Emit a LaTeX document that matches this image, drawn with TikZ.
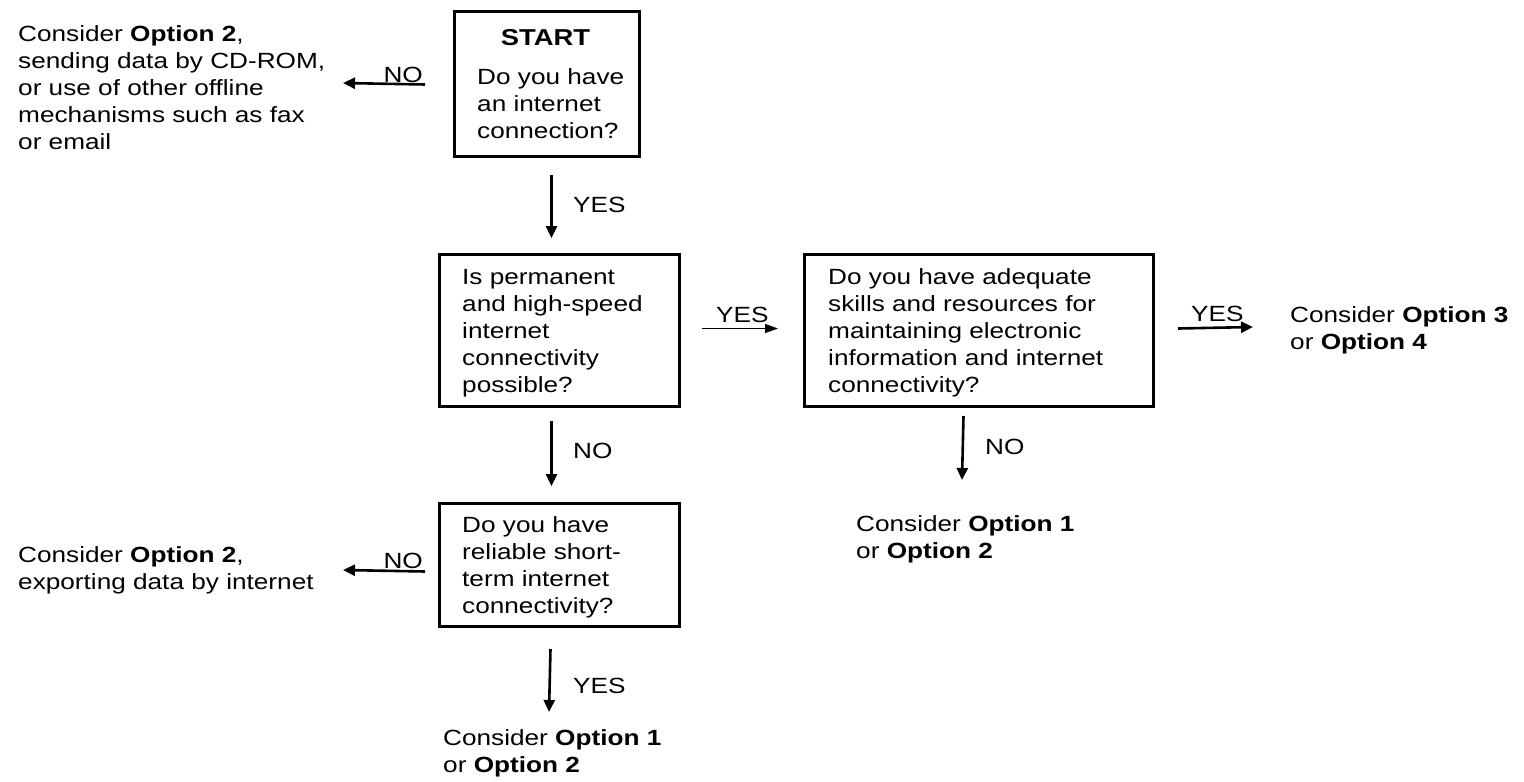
\documentclass[tikz,border=0pt]{standalone}
\usepackage{fontspec}
\setmainfont{Liberation Sans}[FakeStretch=1.19]
\usetikzlibrary{arrows.meta}
\begin{document}
\begin{tikzpicture}[x=1pt,y=-1pt,
  font=\fontsize{22}{26.8}\selectfont,
  box/.style={draw, line width=3pt, inner sep=0pt, anchor=north west},
  txt/.style={inner sep=0pt, align=left, anchor=base west},
  lbl/.style={inner sep=0pt},
  arr/.style={line width=2.6pt, -{Triangle[length=12pt,width=11pt]}},
  thinarr/.style={line width=1.4pt, -{Triangle[length=13pt,width=9pt]}}]
\useasboundingbox (0,0) rectangle (1524,782);

% boxes
\node[box, minimum width=185pt, minimum height=145pt] (b1) at (453,10) {};
\node[box, minimum width=240pt, minimum height=152pt] (b2) at (438,253) {};
\node[box, minimum width=349pt, minimum height=152pt] (b3) at (803,253) {};
\node[box, minimum width=240pt, minimum height=123pt] (b4) at (438,502) {};

% box texts (anchor = baseline of last line)
\node[lbl, anchor=base, font=\bfseries\fontsize{23}{27}\selectfont] (start) at (545.5,45) {START};
\node[txt] (q1) at (477,138) {Do you have\\an internet\\connection?};
\node[txt] (q2) at (462,392) {Is permanent\\and high-speed\\internet\\connectivity\\possible?};
\node[txt] (q3) at (828,392) {Do you have adequate\\skills and resources for\\maintaining electronic\\information and internet\\connectivity?};
\node[txt] (q4) at (462,613) {Do you have\\reliable short-\\term internet\\connectivity?};

% outcome texts
\node[txt] (r1) at (18,149) {Consider \textbf{Option 2},\\sending data by CD-ROM,\\or use of other offline\\mechanisms such as fax\\or email};
\node[txt] (r2) at (1290,349) {Consider \textbf{Option 3}\\or \textbf{Option 4}};
\node[txt] (r3) at (856,558) {Consider \textbf{Option 1}\\or \textbf{Option 2}};
\node[txt] (r4) at (18,589) {Consider \textbf{Option 2},\\exporting data by internet};
\node[txt] (r5) at (443,772) {Consider \textbf{Option 1}\\or \textbf{Option 2}};

% free ends
\coordinate (e1) at (343,83);
\coordinate (e2) at (1253,327);
\coordinate (e3) at (962,480);
\coordinate (e4) at (343,570);
\coordinate (e5) at (549,712);

% connectors
\draw[arr] ([shift={(-28,0.5)}]b1.west) -- (e1);
\node[lbl, anchor=base east] (l1) at (423,82) {NO};

\draw[arr] ([shift={(4.5,17)}]b1.south) -- ([shift={(-8,-15)}]b2.north);
\node[lbl, anchor=base west] (l2) at (573,212) {YES};

\draw[thinarr] ([shift={(21,-2)}]b2.east) -- ([shift={(-25,-2)}]b3.west);
\node[lbl, anchor=base west] (l3) at (716,322) {YES};

\draw[arr] ([shift={(23,-2)}]b3.east) -- (e2);
\node[lbl, anchor=base west] (l4) at (1191,321) {YES};

\draw[arr] ([shift={(-8,13)}]b2.south) -- ([shift={(-8,-16)}]b4.north);
\node[lbl, anchor=base west] (l5) at (573,458) {NO};

\draw[arr] ([shift={(-15.5,8)}]b3.south) -- (e3);
\node[lbl, anchor=base west] (l6) at (985,454) {NO};

\draw[arr] ([shift={(-13,6.5)}]b4.west) -- (e4);
\node[lbl, anchor=base east] (l7) at (423,568) {NO};

\draw[arr] ([shift={(-9,21)}]b4.south) -- (e5);
\node[lbl, anchor=base west] (l8) at (573,693) {YES};
\end{tikzpicture}
\end{document}
